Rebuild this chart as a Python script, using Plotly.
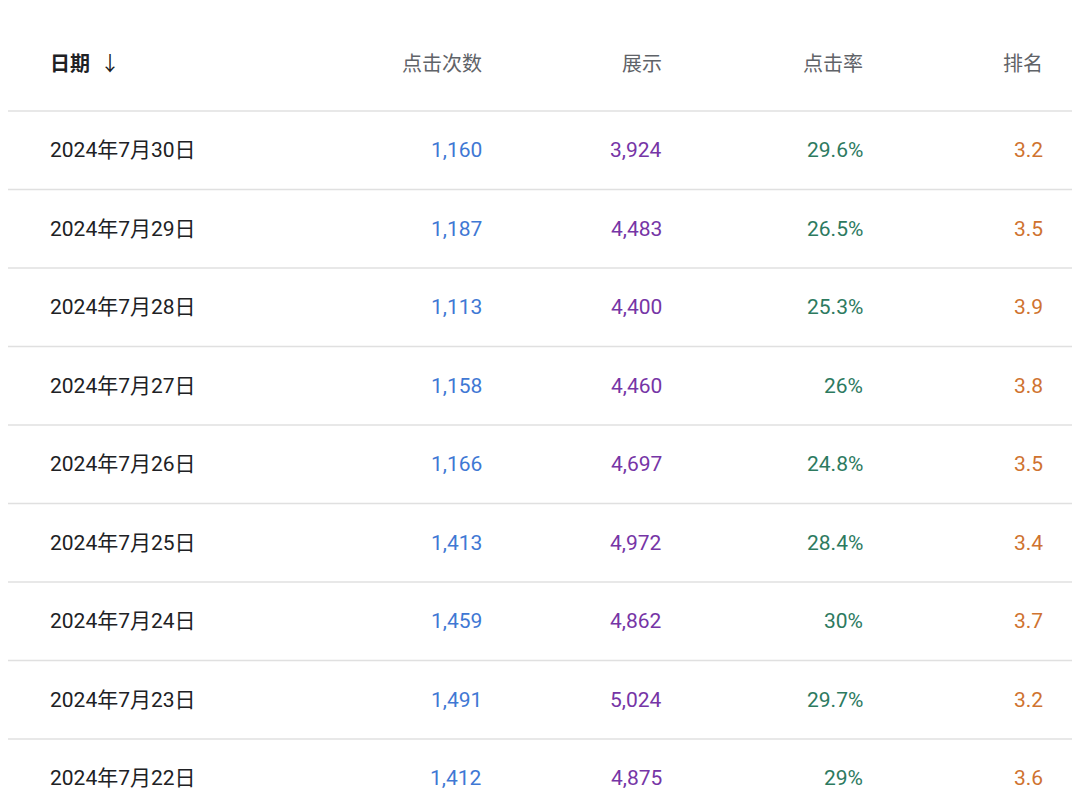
import plotly.graph_objects as go

dates = ["2024年7月30日", "2024年7月29日", "2024年7月28日", "2024年7月27日", "2024年7月26日",
         "2024年7月25日", "2024年7月24日", "2024年7月23日", "2024年7月22日"]
clicks = ["1,160", "1,187", "1,113", "1,158", "1,166", "1,413", "1,459", "1,491", "1,412"]
impressions = ["3,924", "4,483", "4,400", "4,460", "4,697", "4,972", "4,862", "5,024", "4,875"]
ctr = ["29.6%", "26.5%", "25.3%", "26%", "24.8%", "28.4%", "30%", "29.7%", "29%"]
position = ["3.2", "3.5", "3.9", "3.8", "3.5", "3.4", "3.7", "3.2", "3.6"]
headers = ["点击次数", "展示", "点击率", "排名"]

# page body adds an 8px margin, so shift everything back by 8px
off = 8
col_x = [476 - off, 656 - off, 857 - off, 1037 - off]
col_colors = ["#3f78d4", "#7635a6", "#2d7a5f", "#cf7330"]
font = "Roboto, Noto Sans CJK SC, sans-serif"

unit = 78.5
head_h = 95 / unit  # header height in row units
n = len(dates)

fig = go.Figure()
fig.add_trace(go.Scatter(x=[0], y=[0], mode="markers", marker=dict(opacity=0), hoverinfo="skip"))

ann = [dict(x=40 - off, y=head_h / 2, text="<b>日期</b>  ↓", xanchor="left", showarrow=False,
            font=dict(size=20, color="#202124", family=font))]
for h, cx in zip(headers, col_x):
    ann.append(dict(x=cx, y=head_h / 2, text=h, xanchor="right", showarrow=False,
                    font=dict(size=20, color="#5f6368", family=font)))

shapes = []
for i in range(n):
    yc = head_h + i + 0.5
    ann.append(dict(x=40 - off, y=yc, text=dates[i], xanchor="left", showarrow=False,
                    font=dict(size=21, color="#202124", family=font)))
    for vals, cx, c in zip([clicks, impressions, ctr, position], col_x, col_colors):
        ann.append(dict(x=cx, y=yc, text=vals[i], xanchor="right", showarrow=False,
                        font=dict(size=21, color=c, family=font)))
    shapes.append(dict(type="line", x0=-off, x1=1080, y0=head_h + i, y1=head_h + i,
                       line=dict(color="#e0e0e0", width=1.5)))

fig.update_layout(
    width=1080, height=797, margin=dict(l=0, r=0, t=0, b=0),
    paper_bgcolor="white", plot_bgcolor="white", showlegend=False,
    xaxis=dict(range=[-off, 1080 - off], visible=False, fixedrange=True),
    yaxis=dict(range=[(797 - off) / unit, -off / unit], visible=False, fixedrange=True),
    annotations=ann, shapes=shapes,
)
fig.write_html("out.html")
